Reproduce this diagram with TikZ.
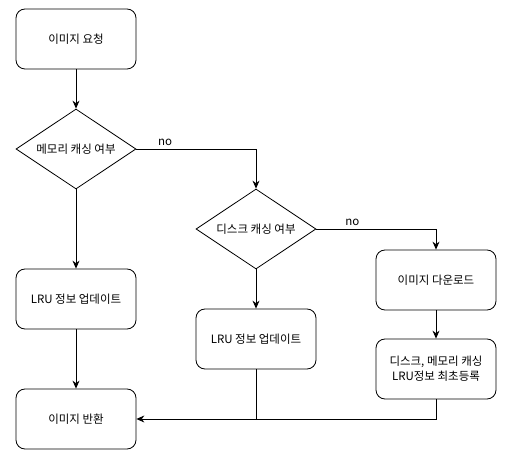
\documentclass[tikz,border=0pt]{standalone}
\usepackage{fontspec}
\setmainfont{Noto Sans CJK KR}
\usetikzlibrary{shapes.geometric,arrows.meta}
\tikzset{
  box/.style={draw, rounded corners=9pt, minimum width=120pt, minimum height=60pt, align=center, line width=0.8pt},
  cond/.style={draw, diamond, minimum width=120pt, minimum height=80pt, inner sep=0pt, aspect=1.5, line width=0.8pt},
  flow/.style={-{Stealth[length=8pt,width=7pt]}, line width=0.8pt},
}
\begin{document}
\begin{tikzpicture}[x=1pt,y=-1pt,font=\fontsize{11.5}{15}\selectfont]
  \useasboundingbox (0,0) rectangle (509,457);
  % Etapes
  \node[box] (req) at (76,39) {이미지 요청};
  \node[cond] (mem) at (76,149) {메모리 캐싱 여부};
  \node[cond] (disk) at (256,229) {디스크 캐싱 여부};
  \node[box] (lrumem) at (76,299) {LRU 정보 업데이트};
  \node[box] (lrudisk) at (256,339) {LRU 정보 업데이트};
  \node[box] (load) at (436,280) {이미지 다운로드};
  \node[box] (save) at (436,369) {디스크, 메모리 캐싱\\LRU정보 최초등록};
  \node[box] (ret) at (76,419) {이미지 반환};
  \coordinate (join) at (lrudisk.south |- ret.east);

  % Liaisons
  \draw[flow] (req) -- (mem);
  \draw[flow] (mem.east) -| node[pos=0.12, above] {no} (disk.north);
  \draw[flow] (disk.east) -| node[pos=0.15, above] {no} (load.north);
  \draw[flow] (mem) -- (lrumem);
  \draw[flow] (disk) -- (lrudisk);
  \draw[flow] (load) -- (save);
  \draw[flow] (lrumem) -- (ret);
  \draw[flow] (lrudisk.south) |- (ret.east);
  \draw[line width=0.8pt] (save.south) |- (join);
\end{tikzpicture}
\end{document}
